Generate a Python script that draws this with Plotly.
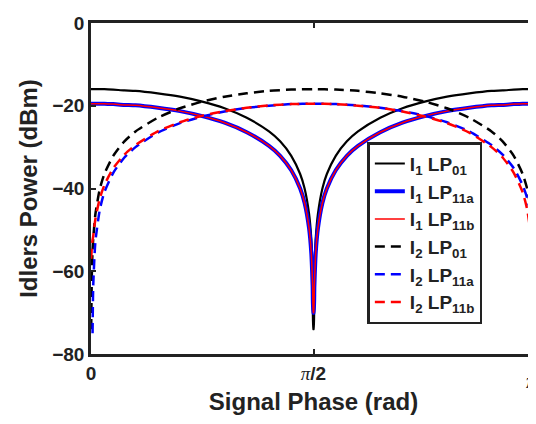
import numpy as np
import plotly.graph_objects as go

# Signal phase as a fraction of pi
phase_frac = [0.0, 0.005, 0.01, 0.02, 0.03, 0.05, 0.075, 0.1, 0.15, 0.2, 0.25, 0.3, 0.35,
              0.4, 0.425, 0.45, 0.47, 0.48, 0.49, 0.495, 0.498, 0.4996,
              0.5004, 0.502, 0.505, 0.51, 0.52, 0.53, 0.55, 0.575, 0.6, 0.65, 0.7, 0.75,
              0.8, 0.85, 0.9, 0.925, 0.95, 0.97, 0.98, 0.99, 0.995, 1.0]

# I1 curves (dBm)
i1_lp01 = [-16.0, -16.0, -16.0, -16.0, -16.0, -16.1, -16.3, -16.4, -17.0, -17.8, -19.0, -20.6, -22.9,
           -26.2, -28.6, -32.1, -36.5, -40.0, -46.1, -52.1, -60.0, -74.0,
           -74.0, -60.0, -52.1, -46.1, -40.0, -36.5, -32.1, -28.6, -26.2, -22.9, -20.6, -19.0,
           -17.8, -17.0, -16.4, -16.3, -16.1, -16.0, -16.0, -16.0, -16.0, -16.0]
i1_lp11a = [-19.5, -19.5, -19.5, -19.5, -19.5, -19.6, -19.8, -19.9, -20.5, -21.3, -22.5, -24.1, -26.4,
            -29.7, -32.1, -35.6, -40.0, -43.5, -49.6, -55.6, -63.5, -70.0,
            -70.0, -63.5, -55.6, -49.6, -43.5, -40.0, -35.6, -32.1, -29.7, -26.4, -24.1, -22.5,
            -21.3, -20.5, -19.9, -19.8, -19.6, -19.5, -19.5, -19.5, -19.5, -19.5]
i1_lp11b = [-19.5, -19.5, -19.5, -19.5, -19.5, -19.6, -19.8, -19.9, -20.5, -21.3, -22.5, -24.1, -26.4,
            -29.7, -32.1, -35.6, -40.0, -43.5, -49.6, -55.6, -63.5, -70.0,
            -70.0, -63.5, -55.6, -49.6, -43.5, -40.0, -35.6, -32.1, -29.7, -26.4, -24.1, -22.5,
            -21.3, -20.5, -19.9, -19.8, -19.6, -19.5, -19.5, -19.5, -19.5, -19.5]

# I2 curves (dBm)
dash_frac = [0.0004, 0.002, 0.0035, 0.005, 0.01, 0.02, 0.03, 0.05, 0.075, 0.1, 0.15, 0.2, 0.25, 0.3,
             0.35, 0.4, 0.45, 0.5, 0.55, 0.6, 0.65, 0.7, 0.75, 0.8, 0.85, 0.9, 0.925, 0.95,
             0.97, 0.98, 0.99, 0.995, 0.9965, 0.998, 1.0]
i2_lp01 = [-74.0, -60.0, -55.0, -52.1, -46.1, -40.0, -36.5, -32.1, -28.6, -26.2, -22.9, -20.6, -19.0, -17.8,
           -17.0, -16.4, -16.1, -16.0, -16.1, -16.4, -17.0, -17.8, -19.0, -20.6, -22.9, -26.2, -28.6, -32.1,
           -36.5, -40.0, -46.1, -52.1, -55.0, -58.0, None]
i2_lp11a = [None, None, -75.0, -63.5, -52.7, -45.0, -40.9, -36.2, -32.5, -30.0, -26.5, -24.2, -22.6, -21.4,
            -20.5, -20.0, -19.6, -19.5, -19.6, -19.9, -20.5, -21.3, -22.4, -24.0, -26.2, -29.5, -31.8, -35.1,
            -39.2, -42.3, -47.3, -50.5, -52.0, -54.0, None]
i2_lp11b = [-57.0, -54.0, -52.5, -51.5, -47.3, -42.3, -39.2, -35.1, -31.8, -29.5, -26.2, -24.0, -22.4, -21.3,
            -20.5, -19.9, -19.6, -19.5, -19.6, -20.0, -20.5, -21.4, -22.6, -24.2, -26.5, -30.0, -32.5, -36.2,
            -40.9, -45.0, -52.7, -63.5, -75.0, None, None]

x_tick_vals = [0.0, 0.5, 1.0]  # fraction of pi
pi_span = '<span style="font-family:Liberation Serif;font-weight:normal"><i>π</i></span>'
x_tick_text = ["0", pi_span + "/2", ""]
pi_end_label = "<i>π</i>"

x_solid = np.array(phase_frac) * np.pi
x_dash = np.array(dash_frac) * np.pi

series = [
    ("I<sub>1</sub> LP<sub>01</sub>", x_solid, i1_lp01, "#000000", 2.2, "solid"),
    ("I<sub>1</sub> LP<sub>11a</sub>", x_solid, i1_lp11a, "#0000ff", 4.0, "solid"),
    ("I<sub>1</sub> LP<sub>11b</sub>", x_solid, i1_lp11b, "#ff0000", 1.5, "solid"),
    ("I<sub>2</sub> LP<sub>01</sub>", x_dash, i2_lp01, "#000000", 2.5, "10px,6px"),
    ("I<sub>2</sub> LP<sub>11a</sub>", x_dash, i2_lp11a, "#0000ff", 2.5, "10px,6px"),
    ("I<sub>2</sub> LP<sub>11b</sub>", x_dash, i2_lp11b, "#ff0000", 2.5, "10px,6px"),
]

fig = go.Figure()
for name, xs, ys, col, w, dash in series:
    fig.add_trace(go.Scatter(x=xs, y=ys, mode="lines", name=name,
                             line=dict(color=col, width=w, dash=dash, shape="spline", smoothing=0.6),
                             connectgaps=False))

bold = dict(family="Liberation Sans, Arial, sans-serif", color="#222222", weight="bold")

fig.update_layout(
    width=536, height=424,
    margin=dict(l=83, r=5, t=14, b=78),
    paper_bgcolor="white", plot_bgcolor="white",
    font=dict(**bold, size=18),
    showlegend=True,
    legend=dict(x=0.621, y=0.64, xanchor="left", yanchor="top",
                bgcolor="white", bordercolor="#222222", borderwidth=2.5,
                font=dict(**bold, size=19), tracegroupgap=0),
)
fig.add_annotation(x=x_tick_vals[2] * np.pi, xref="x", y=0, yref="paper",
                   text=pi_end_label, showarrow=False, xanchor="center", yanchor="top",
                   xshift=-5, yshift=-14,
                   font=dict(family="Liberation Serif, Times New Roman, serif", size=20,
                             color="#222222", weight="normal"))
fig.update_xaxes(range=[0, np.pi], tickvals=[v * np.pi for v in x_tick_vals],
                 ticktext=x_tick_text,
                 showgrid=False, zeroline=False, showline=True, linecolor="#222222", linewidth=2.5,
                 mirror="allticks", ticks="inside", ticklen=5, tickwidth=2, tickcolor="#222222",
                 title=dict(text="Signal Phase (rad)", font=dict(**bold, size=24), standoff=11),
                 tickfont=dict(**bold, size=19))
fig.update_yaxes(range=[-80, 0], tickvals=[-80, -60, -40, -20, 0],
                 showgrid=False, zeroline=False, showline=True, linecolor="#222222", linewidth=2.5,
                 mirror="allticks", ticks="inside", ticklen=5, tickwidth=2, tickcolor="#222222",
                 title=dict(text="Idlers Power (dBm)", font=dict(**bold, size=24), standoff=8),
                 tickfont=dict(**bold, size=19))

fig.write_html("out.html")
